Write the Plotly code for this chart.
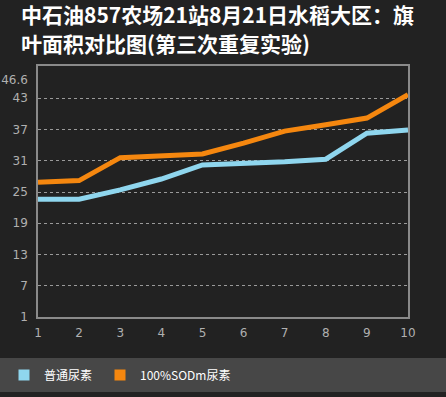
import plotly.graph_objects as go

x_vals = [1, 2, 3, 4, 5, 6, 7, 8, 9, 10]
normal_urea = [23.6, 23.6, 25.4, 27.5, 30.2, 30.4, 30.8, 31.3, 36.3, 36.9]
sodm_urea = [26.9, 27.2, 31.6, 32.0, 32.3, 34.4, 36.7, 37.9, 39.2, 43.7]
series_names = ["普通尿素", "100%SODm尿素"]
y_ticks = [1, 7, 13, 19, 25, 31, 37, 43, 46.6]
y_grid = [7, 13, 19, 25, 31, 37, 43]
title_lines = ["中石油857农场21站8月21日水稻大区：旗", "叶面积对比图(第三次重复实验)"]

BLUE = "#8fd6ee"
ORANGE = "#f5870f"
BG = "#222222"

PL, PR, PT, PB = 38, 38, 66, 80
W, H = 446, 397
PW, PH = W - PL - PR, H - PT - PB


def px_x(px):
    return (px - PL) / PW


def px_y(py):
    return (H - PB - py) / PH


fig = go.Figure()
for name, vals, col in [(series_names[0], normal_urea, BLUE), (series_names[1], sodm_urea, ORANGE)]:
    fig.add_trace(go.Scatter(x=x_vals, y=vals, mode="lines", line=dict(color=col, width=5),
                             showlegend=False, name=name))
for name, col, lg in [(series_names[0], BLUE, "legend"), (series_names[1], ORANGE, "legend2")]:
    fig.add_trace(go.Scatter(x=[None], y=[None], mode="markers", name=name, legend=lg,
                             marker=dict(symbol="square", size=11, color=col)))

fig.add_shape(type="rect", xref="paper", yref="paper",
              x0=px_x(0), x1=px_x(W), y0=px_y(392), y1=px_y(358),
              fillcolor="#474747", line=dict(width=0), layer="below")

for i, (line, cy) in enumerate(zip(title_lines, [14, 43])):
    fig.add_annotation(text="<b>" + line + "</b>", xref="paper", yref="paper",
                       x=px_x(19), y=px_y(cy), xanchor="left", yanchor="middle",
                       showarrow=False,
                       font=dict(family="Noto Sans CJK SC", size=21, color="#ffffff"))

legend_common = dict(orientation="h", xanchor="left", y=px_y(375), yanchor="middle",
                     bgcolor="rgba(0,0,0,0)", itemwidth=30,
                     font=dict(family="Noto Sans CJK SC", size=12, color="#ffffff"))

fig.update_layout(
    width=W, height=H,
    paper_bgcolor=BG, plot_bgcolor=BG,
    margin=dict(l=PL, r=PR, t=PT, b=PB, autoexpand=False),
    xaxis=dict(range=[1, 10], tickvals=x_vals, showgrid=False, zeroline=False,
               showline=True, linecolor="#8a8a8a", linewidth=1.5, mirror=True,
               ticks="", ticklabelstandoff=4,
               tickfont=dict(family="DejaVu Sans", size=12, color="#b0b0b0")),
    yaxis=dict(range=[1, 49.2], tickvals=y_ticks, ticktext=[str(v) for v in y_ticks],
               showgrid=False, zeroline=False,
               showline=True, linecolor="#8a8a8a", linewidth=1.5, mirror=True,
               ticks="", ticklabelstandoff=6,
               tickfont=dict(family="DejaVu Sans", size=12, color="#b0b0b0"),
               minor=dict(tickvals=y_grid, showgrid=True, gridcolor="#9a9a9a",
                          griddash="dot", gridwidth=1, ticks="")),
    legend=dict(x=px_x(4), **legend_common),
    legend2=dict(x=px_x(100), **legend_common),
)

fig.write_html("out.html", config={"displayModeBar": False},
               post_script="document.body.style.margin='0';document.body.style.overflow='hidden';")
